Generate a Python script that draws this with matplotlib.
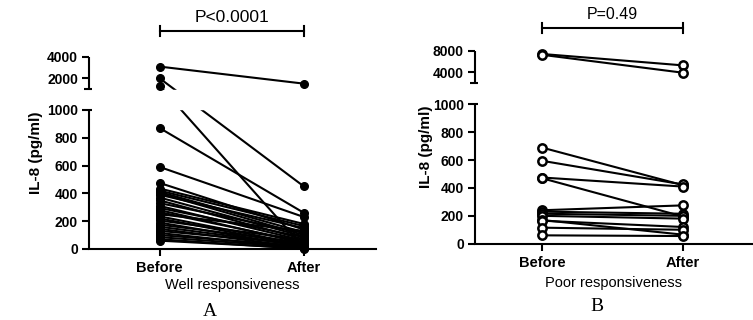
import numpy as np
import matplotlib.pyplot as plt
from matplotlib.patches import Rectangle

plt.rcParams['font.family'] = ['Liberation Sans', 'DejaVu Sans']

groups = ['Before', 'After']

# well responsiveness (panel A)
well_before = [3100, 2000, 1300, 870, 590, 475, 435, 420, 410, 400, 390, 370, 350, 330, 310, 295,
               280, 265, 250, 235, 220, 205, 190, 175, 160, 145, 130, 115, 100, 85, 70, 60]
well_after = [1500, 450, 10, 260, 230, 140, 180, 165, 120, 100, 150, 90, 70, 115, 60, 85,
              40, 50, 130, 30, 20, 65, 15, 45, 25, 10, 35, 5, 20, 10, 0, 5]
well_yticks = [0, 200, 400, 600, 800, 1000, 2000, 4000]

# poor responsiveness (panel B)
poor_before = [7400, 7250, 690, 595, 475, 470, 240, 230, 215, 200, 170, 165, 115, 60]
poor_after = [5300, 3950, 420, 425, 410, 195, 275, 215, 200, 180, 65, 120, 100, 55]
poor_yticks = [0, 200, 400, 600, 800, 1000, 4000, 8000]

W, H = 753, 320
GAP = 151.0  # height of the axis break, in units of the lower segment


def broken_scale(hi_bot, hi_top, hi_len):
    # lower segment 0..1000 linear, then a gap, then hi_bot..hi_top squeezed into hi_len
    k = hi_len / (hi_top - hi_bot)
    span = max(hi_bot - 1000.0, 1e-9)

    def forward(v):
        v = np.asarray(v, dtype=float)
        return np.where(v <= 1000, v,
                        np.where(v < hi_bot, 1000 + GAP * (v - 1000) / span,
                                 1000 + GAP + (v - hi_bot) * k))

    def inverse(u):
        u = np.asarray(u, dtype=float)
        return np.where(u <= 1000, u,
                        np.where(u < 1000 + GAP, 1000 + (u - 1000) / GAP * (hi_bot - 1000),
                                 hi_bot + (u - 1000 - GAP) / k))
    return forward, inverse


def draw_panel(ax, box, before, after, hi_bot, hi_top, hi_len, yticks, filled,
               ptext, pfont, bar_y, text_y, xlabel, xlabel_y, ylabel_x):
    ax.set_yscale('function', functions=broken_scale(hi_bot, hi_top, hi_len))
    ax.set_ylim(0, hi_top)
    for b, a in zip(before, after):
        ax.plot([0, 1], [b, a], color='black', lw=1.5, zorder=2)
    if filled:
        mk = dict(marker='o', ms=5.5, mfc='black', mec='black', mew=1.0)
    else:
        mk = dict(marker='o', ms=6, mfc='white', mec='black', mew=1.8)
    ax.plot(np.zeros(len(before)), before, ls='none', zorder=4, clip_on=False, **mk)
    ax.plot(np.ones(len(after)), after, ls='none', zorder=4, clip_on=False, **mk)

    total = 1000 + GAP + hi_len
    f_lo = 1000 / total
    f_hi = (1000 + GAP) / total
    ax.add_patch(Rectangle((0.003, f_lo + 0.004), 1.0, f_hi - f_lo - 0.008,
                           transform=ax.transAxes, color='white', zorder=3, clip_on=False))

    # left spine in two pieces
    ax.spines['left'].set_visible(False)
    ax.spines['top'].set_visible(False)
    ax.spines['right'].set_visible(False)
    ax.spines['bottom'].set_linewidth(1.5)
    wpx = box[2] * W
    kw = dict(transform=ax.transAxes, color='black', lw=1.5, clip_on=False, zorder=5,
              solid_capstyle='butt')
    ax.plot([0, 0], [0, f_lo], **kw)
    ax.plot([0, 0], [f_hi, 1], **kw)
    ax.plot([0, 3 / wpx], [f_lo, f_lo], **kw)
    ax.plot([-5 / wpx, 3 / wpx], [f_hi, f_hi], **kw)

    ax.set_yticks(yticks)
    ax.set_yticklabels([str(t) for t in yticks], fontweight='bold', fontsize=10)
    ax.set_xlim(-0.49 if filled else -0.475, 1.5 if filled else 1.49)
    ax.set_xticks([0, 1])
    ax.set_xticklabels(groups, fontweight='bold', fontsize=10.5)
    ax.tick_params(axis='y', direction='out', length=5, width=1.5, pad=3)
    ax.tick_params(axis='x', direction='out', length=5, width=1.5, pad=4)
    ax.minorticks_off()

    ax.set_ylabel('IL-8 (pg/ml)', fontweight='bold', fontsize=11, va='center')
    ax.yaxis.set_label_coords(ylabel_x, 0.5)
    ax.set_xlabel(xlabel, fontsize=10.5)
    ax.xaxis.set_label_coords(0.5, xlabel_y)

    # significance bracket
    tr = ax.get_xaxis_transform()
    cap = 5 / (box[3] * H)
    bkw = dict(transform=tr, color='black', lw=1.5, clip_on=False)
    ax.plot([0, 1], [bar_y, bar_y], **bkw)
    ax.plot([0, 0], [bar_y - cap, bar_y + cap], **bkw)
    ax.plot([1, 1], [bar_y - cap, bar_y + cap], **bkw)
    ax.text(0.5, text_y, ptext, transform=tr, ha='center', va='center', fontsize=pfont)


fig = plt.figure(figsize=(W / 100, H / 100), dpi=100)

box_a = [89 / W, (H - 249) / H, (376 - 89) / W, (249 - 57) / H]
box_b = [475 / W, (H - 243.7) / H, (752 - 475) / W, (243.7 - 50.7) / H]
ax_a = fig.add_axes(box_a)
ax_b = fig.add_axes(box_b)

draw_panel(ax_a, box_a, well_before, well_after, 1000, 4000, 230, well_yticks, True,
           'P<0.0001', 12.5, 1.135, 1.208, 'Well responsiveness', -0.15, -0.185)
draw_panel(ax_b, box_b, poor_before, poor_after, 2000, 8000, 234, poor_yticks, False,
           'P=0.49', 11.5, 1.116, 1.185, 'Poor responsiveness', -0.165, -0.176)

fig.text(210 / W, 1 - 316 / H, 'A', family=['Liberation Serif'], fontsize=14,
         ha='center', va='baseline')
fig.text(597 / W, 1 - 311 / H, 'B', family=['Liberation Serif'], fontsize=14,
         ha='center', va='baseline')

fig.savefig('out.png', dpi=100)
